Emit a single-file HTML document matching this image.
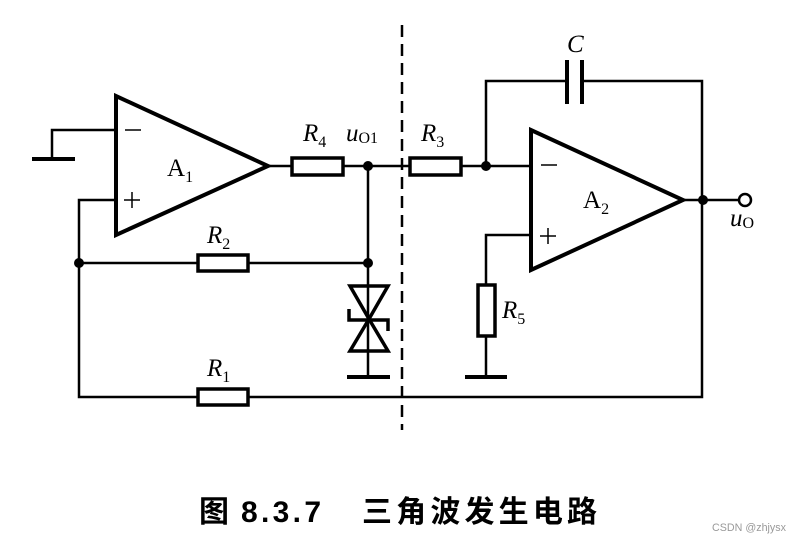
<!DOCTYPE html>
<html><head><meta charset="utf-8"><style>
html,body{margin:0;padding:0;background:#fff;width:798px;height:537px;overflow:hidden}
svg{position:absolute;left:0;top:0}
.t{font-family:"Liberation Serif",serif;fill:#000}
.c{font-family:"Liberation Sans","Noto Sans CJK SC",sans-serif;font-weight:bold;fill:#000;font-size:30px}
</style></head><body>
<svg width="798" height="537" viewBox="0 0 798 537" xmlns="http://www.w3.org/2000/svg">
<g stroke="#000" stroke-width="2.5" fill="none">
<polygon points="116,96 116,235 268,166" stroke-width="4"/>
<polyline points="116,130 52,130 52,159"/>
<line x1="32" y1="159" x2="75" y2="159" stroke-width="4"/>
<polyline points="116,200 79,200 79,397 198,397"/>
<line x1="268" y1="166" x2="292" y2="166"/>
<rect x="292" y="158" width="51" height="17" stroke-width="3.5"/>
<line x1="343" y1="166" x2="410" y2="166"/>
<line x1="79" y1="263" x2="198" y2="263"/>
<rect x="198" y="255" width="50" height="16" stroke-width="3.5"/>
<line x1="248" y1="263" x2="368" y2="263"/>
<line x1="368" y1="166" x2="368" y2="377"/>
<polygon points="350,286 388,286 369,319" stroke-width="3.5"/>
<polygon points="369,319 350,351 388,351" stroke-width="3.5"/>
<polyline points="349,309 349,320 388,320 388,331" stroke-width="3.5"/>
<line x1="347" y1="377" x2="390" y2="377" stroke-width="4"/>
<rect x="198" y="389" width="50" height="16" stroke-width="3.5"/>
<polyline points="248,397 702,397 702,81 582,81"/>
<line x1="402" y1="25" x2="402" y2="430" stroke-dasharray="12,7"/>
<rect x="410" y="158" width="51" height="17" stroke-width="3.5"/>
<line x1="461" y1="166" x2="531" y2="166"/>
<polyline points="486,166 486,81 567,81"/>
<line x1="567" y1="60" x2="567" y2="104" stroke-width="4"/>
<line x1="582" y1="60" x2="582" y2="104" stroke-width="4"/>
<polygon points="531,130 531,270 683,200" stroke-width="4"/>
<line x1="683" y1="200" x2="739" y2="200"/>
<polyline points="531,235 486,235 486,285"/>
<rect x="478" y="285" width="17" height="51" stroke-width="3.5"/>
<line x1="486" y1="336" x2="486" y2="377"/>
<line x1="465" y1="377" x2="507" y2="377" stroke-width="4"/>
<circle cx="745" cy="200" r="6" stroke-width="2.5" fill="#fff"/>
</g>
<g fill="#000">
<circle cx="368" cy="166" r="5"/>
<circle cx="368" cy="263" r="5"/>
<circle cx="79" cy="263" r="5"/>
<circle cx="486" cy="166" r="5"/>
<circle cx="703" cy="200" r="5"/>
</g>
<g stroke="#000" stroke-width="1.5">
<line x1="125" y1="130" x2="141" y2="130"/>
<line x1="124" y1="200" x2="140" y2="200"/><line x1="132" y1="192" x2="132" y2="208"/>
<line x1="541" y1="165" x2="557" y2="165"/>
<line x1="540" y1="236" x2="556" y2="236"/><line x1="548" y1="228" x2="548" y2="244"/>
</g>
<text class="t" x="167" y="176" font-size="25">A<tspan font-size="16" dy="6">1</tspan></text>
<text class="t" x="583" y="208" font-size="25">A<tspan font-size="16" dy="6">2</tspan></text>
<text class="t" x="303" y="141" font-size="25" font-style="italic">R<tspan font-size="16" font-style="normal" dy="6">4</tspan></text>
<text class="t" x="346" y="141" font-size="25" font-style="italic">u<tspan font-size="16" font-style="normal" dy="2">O1</tspan></text>
<text class="t" x="421" y="141" font-size="25" font-style="italic">R<tspan font-size="16" font-style="normal" dy="6">3</tspan></text>
<text class="t" x="207" y="243" font-size="25" font-style="italic">R<tspan font-size="16" font-style="normal" dy="6">2</tspan></text>
<text class="t" x="207" y="376" font-size="25" font-style="italic">R<tspan font-size="16" font-style="normal" dy="6">1</tspan></text>
<text class="t" x="502" y="318" font-size="25" font-style="italic">R<tspan font-size="16" font-style="normal" dy="6">5</tspan></text>
<text class="t" x="567" y="52" font-size="25" font-style="italic">C</text>
<text class="t" x="730" y="226" font-size="25" font-style="italic">u<tspan font-size="16" font-style="normal" dy="2">O</tspan></text>
<text class="c" x="199" y="522">图</text>
<text class="c" x="241" y="522" textLength="80" lengthAdjust="spacing">8.3.7</text>
<text class="c" x="362" y="522" textLength="235" lengthAdjust="spacing">三角波发生电路</text>
<text x="712" y="531" font-size="11" font-family="'Liberation Sans',sans-serif" fill="#999" textLength="74" lengthAdjust="spacingAndGlyphs">CSDN @zhjysx</text>
</svg>
</body></html>
